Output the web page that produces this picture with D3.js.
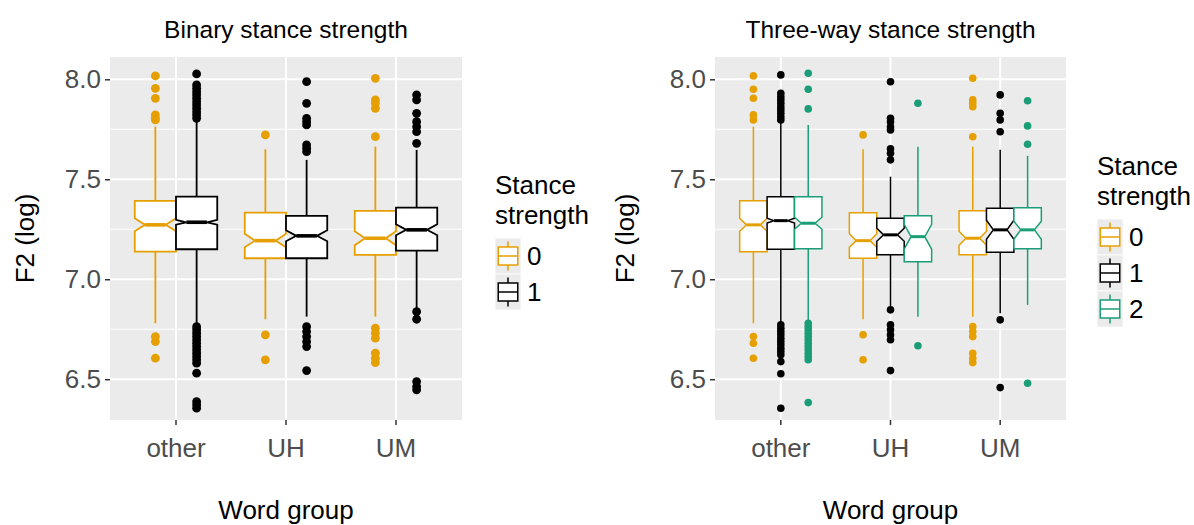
<!DOCTYPE html>
<html>
<head>
<meta charset="utf-8">
<script src="https://cdn.jsdelivr.net/npm/d3@7"></script>
<style>
  html, body { margin: 0; padding: 0; background: #fff; }
  svg { display: block; font-family: "Liberation Sans", Arial, Helvetica, sans-serif; }
</style>
</head>
<body>
<svg id="chart" width="1194" height="525"></svg>
<script>
// ---------------- DATA ----------------
const groups = ["other", "UH", "UM"];
const binaryLevels = ["0", "1"];
const threeLevels = ["0", "1", "2"];
const yTicks = [6.5, 7.0, 7.5, 8.0];
const panelTitles = ["Binary stance strength", "Three-way stance strength"];
const xTitle = "Word group";
const yTitle = "F2 (log)";
const legendTitle = ["Stance", "strength"];

// group, level, whiskerLow, Q1, median, Q3, whiskerHigh, notchLow, notchHigh
const binaryBoxes = [
  ["other", "0", 6.780, 7.138, 7.272, 7.392, 7.763, 7.240, 7.305],
  ["other", "1", 6.772, 7.150, 7.285, 7.413, 7.797, 7.273, 7.297],
  ["UH",    "0", 6.800, 7.105, 7.193, 7.333, 7.650, 7.160, 7.228],
  ["UH",    "1", 6.813, 7.105, 7.217, 7.317, 7.597, 7.190, 7.245],
  ["UM",    "0", 6.813, 7.122, 7.205, 7.342, 7.663, 7.170, 7.240],
  ["UM",    "1", 6.855, 7.143, 7.247, 7.358, 7.647, 7.220, 7.275]
];
const binaryOutliers = [
  ["other", "0", [8.017, 7.955, 7.905, 7.822, 7.805, 7.797, 6.713, 6.688, 6.605]],
  ["other", "1", [8.027, 7.972, 7.955, 7.938, 7.922, 7.905, 7.888, 7.872, 7.855, 7.838, 7.822, 7.805,
                  6.763, 6.747, 6.730, 6.713, 6.697, 6.680, 6.663, 6.647, 6.630, 6.613, 6.597, 6.580,
                  6.530, 6.388, 6.372, 6.355]],
  ["UH", "0", [7.722, 6.722, 6.597]],
  ["UH", "1", [7.988, 7.880, 7.805, 7.788, 7.772, 7.672, 7.655, 7.638, 6.763, 6.738, 6.713, 6.688, 6.663, 6.543]],
  ["UM", "0", [8.005, 7.897, 7.880, 7.855, 7.713, 6.755, 6.730, 6.705, 6.630, 6.605, 6.583]],
  ["UM", "1", [7.922, 7.897, 7.830, 7.788, 7.763, 7.738, 7.680, 6.838, 6.800, 6.488, 6.463, 6.447]]
];

const threeBoxes = [
  ["other", "0", 6.780, 7.138, 7.272, 7.392, 7.763, 7.240, 7.305],
  ["other", "1", 6.772, 7.150, 7.293, 7.413, 7.797, 7.281, 7.305],
  ["other", "2", 6.780, 7.152, 7.280, 7.413, 7.772, 7.250, 7.310],
  ["UH",    "0", 6.800, 7.105, 7.193, 7.333, 7.650, 7.160, 7.228],
  ["UH",    "1", 6.863, 7.122, 7.222, 7.305, 7.513, 7.190, 7.255],
  ["UH",    "2", 6.813, 7.088, 7.213, 7.318, 7.663, 7.150, 7.275],
  ["UM",    "0", 6.813, 7.122, 7.205, 7.342, 7.663, 7.170, 7.240],
  ["UM",    "1", 6.830, 7.135, 7.247, 7.355, 7.647, 7.200, 7.295],
  ["UM",    "2", 6.872, 7.152, 7.247, 7.358, 7.617, 7.200, 7.290]
];
const threeOutliers = [
  ["other", "0", [8.017, 7.950, 7.905, 7.822, 7.797, 6.713, 6.680, 6.605]],
  ["other", "1", [8.022, 7.930, 7.913, 7.897, 7.880, 7.863, 7.847, 7.830, 7.813, 7.797,
                  6.772, 6.755, 6.738, 6.722, 6.705, 6.688, 6.672, 6.655, 6.638, 6.622,
                  6.588, 6.527, 6.355]],
  ["other", "2", [8.030, 7.950, 7.852, 6.780, 6.763, 6.747, 6.730, 6.713, 6.697, 6.680, 6.663,
                  6.647, 6.630, 6.613, 6.597, 6.383]],
  ["UH", "0", [7.722, 6.722, 6.597]],
  ["UH", "1", [7.988, 7.805, 7.788, 7.763, 7.747, 7.652, 7.630, 7.597, 6.847, 6.772, 6.747, 6.722, 6.697, 6.543]],
  ["UH", "2", [7.880, 6.667]],
  ["UM", "0", [8.005, 7.897, 7.880, 7.863, 7.713, 6.763, 6.738, 6.713, 6.630, 6.605, 6.583]],
  ["UM", "1", [7.922, 7.830, 7.797, 7.738, 6.797, 6.458]],
  ["UM", "2", [7.893, 7.767, 7.675, 6.480]]
];

// ---------------- STYLE ----------------
const colorOf = { "0": "#E69F00", "1": "#000000", "2": "#1B9E77" };
const FONT = 26;

const svg = d3.select("#chart");

function drawPanel(opt) {
  const { left, right, top, bottom, boxes, outliers, levels, title,
          yTitleX, legendX, legendTop, lw, ptR } = opt;
  const g = svg.append("g");

  const y = d3.scaleLinear().domain([6.296, 8.1115]).range([bottom, top]);
  const x = d3.scaleBand().domain(groups).range([left, right]).paddingInner(0).paddingOuter(0.1);
  const step = x.step();
  const dodge = d3.scaleBand().domain(levels).range([-0.375 * step, 0.375 * step]);
  const cx = (grp) => x(grp) + x.bandwidth() / 2;

  // background
  g.append("rect").attr("x", left).attr("y", top)
    .attr("width", right - left).attr("height", bottom - top).attr("fill", "#EBEBEB");

  // minor grid
  const minor = [6.75, 7.25, 7.75];
  g.selectAll(".minor").data(minor).join("line")
    .attr("x1", left).attr("x2", right)
    .attr("y1", d => y(d)).attr("y2", d => y(d))
    .attr("stroke", "#fff").attr("stroke-width", 1);
  // major grid
  g.selectAll(".majorY").data(yTicks).join("line")
    .attr("x1", left).attr("x2", right)
    .attr("y1", d => y(d)).attr("y2", d => y(d))
    .attr("stroke", "#fff").attr("stroke-width", 2);
  g.selectAll(".majorX").data(groups).join("line")
    .attr("x1", d => cx(d)).attr("x2", d => cx(d))
    .attr("y1", top).attr("y2", bottom)
    .attr("stroke", "#fff").attr("stroke-width", 2);

  // axes
  const ya = g.append("g").attr("transform", `translate(${left},0)`)
    .call(d3.axisLeft(y).tickValues(yTicks).tickFormat(d3.format(".1f")).tickSize(5).tickPadding(4));
  ya.select(".domain").remove();
  ya.selectAll(".tick line").attr("stroke", "#333").attr("stroke-width", 1.5);
  ya.selectAll(".tick text").attr("fill", "#4D4D4D").attr("font-size", FONT)
    .attr("font-family", "Liberation Sans, Arial, sans-serif");

  const xa = g.append("g").attr("transform", `translate(0,${bottom})`)
    .call(d3.axisBottom(x).tickSize(5).tickPadding(14));
  xa.select(".domain").remove();
  xa.selectAll(".tick line").attr("stroke", "#333").attr("stroke-width", 1.5);
  xa.selectAll(".tick text").attr("fill", "#4D4D4D").attr("font-size", FONT)
    .attr("font-family", "Liberation Sans, Arial, sans-serif");

  // boxes
  const line = d3.line();
  boxes.forEach(b => {
    const [grp, lev, ymin, lo, mid, hi, ymax, nlo, nhi] = b;
    const c = cx(grp) + dodge(lev) + dodge.bandwidth() / 2;
    const w = dodge.bandwidth();
    const x0 = c - w / 2, x1 = c + w / 2, ind = w * 0.25;
    const col = colorOf[lev];
    const bg = g.append("g");
    bg.append("line").attr("x1", c).attr("x2", c).attr("y1", y(hi)).attr("y2", y(ymax))
      .attr("stroke", col).attr("stroke-width", lw);
    bg.append("line").attr("x1", c).attr("x2", c).attr("y1", y(lo)).attr("y2", y(ymin))
      .attr("stroke", col).attr("stroke-width", lw);
    const pts = [
      [x0, y(hi)], [x0, y(nhi)], [x0 + ind, y(mid)], [x0, y(nlo)], [x0, y(lo)],
      [x1, y(lo)], [x1, y(nlo)], [x1 - ind, y(mid)], [x1, y(nhi)], [x1, y(hi)]
    ];
    bg.append("path").attr("d", line(pts) + "Z")
      .attr("fill", "#fff").attr("stroke", col).attr("stroke-width", lw)
      .attr("stroke-linejoin", "miter");
    bg.append("line").attr("x1", x0 + ind).attr("x2", x1 - ind)
      .attr("y1", y(mid)).attr("y2", y(mid))
      .attr("stroke", col).attr("stroke-width", lw * 2);
  });
  // outliers
  outliers.forEach(o => {
    const [grp, lev, vals] = o;
    const c = cx(grp) + dodge(lev) + dodge.bandwidth() / 2;
    g.append("g").selectAll("circle").data(vals).join("circle")
      .attr("cx", c).attr("cy", d => y(d)).attr("r", ptR)
      .attr("fill", colorOf[lev]);
  });

  // title
  g.append("text").attr("x", (left + right) / 2).attr("y", 38)
    .attr("text-anchor", "middle").attr("font-size", 24.5).attr("fill", "#000").text(title);
  // x title
  g.append("text").attr("x", (left + right) / 2).attr("y", 519)
    .attr("text-anchor", "middle").attr("font-size", FONT).attr("fill", "#000").text(xTitle);
  // y title
  g.append("text").attr("transform", `translate(${yTitleX},${(top + bottom) / 2}) rotate(-90)`)
    .attr("text-anchor", "middle").attr("font-size", FONT).attr("fill", "#000").text(yTitle);

  // legend
  const lg = g.append("g").attr("transform", `translate(${legendX},${legendTop})`);
  legendTitle.forEach((t, i) => {
    lg.append("text").attr("x", 0).attr("y", 20 + i * 30).attr("font-size", FONT)
      .attr("fill", "#000").text(t);
  });
  const kw = 26, kh = 36, ky0 = 64;
  levels.forEach((lev, i) => {
    const k = lg.append("g").attr("transform", `translate(0,${ky0 + i * kh})`);
    const col = colorOf[lev];
    k.append("rect").attr("width", kw).attr("height", kh).attr("fill", "#EBEBEB")
      .attr("stroke", "#fff").attr("stroke-width", 0.8);
    k.append("line").attr("x1", kw / 2).attr("x2", kw / 2).attr("y1", kh * 0.1).attr("y2", kh * 0.25)
      .attr("stroke", col).attr("stroke-width", 1.5);
    k.append("line").attr("x1", kw / 2).attr("x2", kw / 2).attr("y1", kh * 0.75).attr("y2", kh * 0.9)
      .attr("stroke", col).attr("stroke-width", 1.5);
    k.append("rect").attr("x", kw * 0.125).attr("y", kh * 0.25).attr("width", kw * 0.75).attr("height", kh * 0.5)
      .attr("fill", "#fff").attr("stroke", col).attr("stroke-width", 1.5);
    k.append("line").attr("x1", kw * 0.125).attr("x2", kw * 0.875).attr("y1", kh * 0.5).attr("y2", kh * 0.5)
      .attr("stroke", col).attr("stroke-width", 1.5);
    k.append("text").attr("x", kw + 6).attr("y", kh / 2 + 9).attr("font-size", FONT)
      .attr("fill", "#000").text(lev);
  });
}

drawPanel({
  left: 110, right: 462, top: 57, bottom: 420,
  boxes: binaryBoxes, outliers: binaryOutliers, levels: binaryLevels,
  title: panelTitles[0], yTitleX: 34, legendX: 495, legendTop: 174,
  lw: 1.8, ptR: 4.4
});
drawPanel({
  left: 715, right: 1066, top: 57, bottom: 420,
  boxes: threeBoxes, outliers: threeOutliers, levels: threeLevels,
  title: panelTitles[1], yTitleX: 634, legendX: 1097, legendTop: 155,
  lw: 1.5, ptR: 3.8
});
</script>
</body>
</html>
